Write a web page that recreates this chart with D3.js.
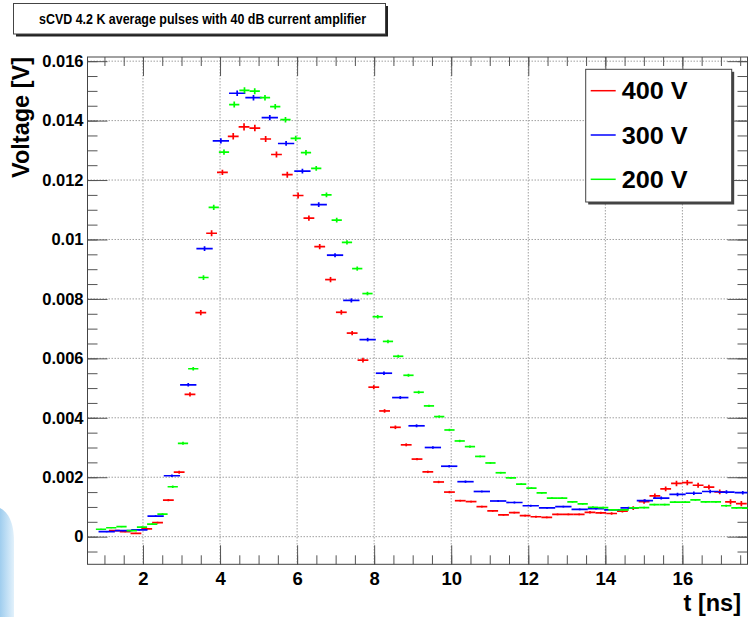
<!DOCTYPE html>
<html>
<head>
<meta charset="utf-8">
<script src="https://cdn.jsdelivr.net/npm/d3@7/dist/d3.min.js"></script>
<style>
  html, body { margin: 0; padding: 0; background: #fff; }
  svg { display: block; }
  text { font-family: "Liberation Sans", Arial, Helvetica, sans-serif; font-weight: bold; fill: #000; }
</style>
</head>
<body>
<svg id="chart" width="748" height="617"></svg>
<script>
// Averaged pulse histograms: uniform bins (low edge, bin width) with bin contents and errors in volts
const titleText = "sCVD 4.2 K average pulses with 40 dB current amplifier";
const seriesNames = ["400 V", "300 V", "200 V"];
const seriesColors = ["#ff0000", "#0000ff", "#00ff00"];

// 400 V
const redLow = 1.1153, redWidth = 0.2806;
const redValues = [
  0.00020, 0.00017, 0.00011, 0.00026, 0.00047, 0.00123, 0.00217, 0.00479, 0.00754, 0.01021,
  0.01226, 0.01347, 0.01379, 0.01375, 0.01338, 0.01286, 0.01218, 0.01148, 0.01072, 0.00976,
  0.00865, 0.00755, 0.00685, 0.00594, 0.00503, 0.00423, 0.00368, 0.00309, 0.00261, 0.00218,
  0.00184, 0.00150, 0.00121, 0.00118, 0.00101, 0.00087, 0.00073, 0.00081, 0.00071, 0.00067,
  0.00065, 0.00075, 0.00075, 0.00075, 0.00082, 0.00080, 0.00078, 0.00086, 0.00096, 0.00118,
  0.00137, 0.00161, 0.00179, 0.00182, 0.00173, 0.00167, 0.00151, 0.00117, 0.00111
];
const redErrors = [
  2, 2, 2, 2, 3, 4, 5, 7, 9, 10, 9, 11, 12, 11, 10, 10, 10, 10, 9, 9,
  9, 8, 7, 8, 7, 6, 6, 5, 4, 4, 4, 4, 3, 3, 3, 3, 3, 3, 3, 3,
  3, 3, 3, 3, 4, 4, 4, 5, 6, 7, 8, 8, 9, 9, 8, 8, 8, 9, 9
].map(e => e * 1e-5);

// 300 V
const blueLow = 0.8467, blueWidth = 0.4233;
const blueValues = [
  0.00017, 0.00020, 0.00023, 0.00069, 0.00205, 0.00511, 0.00969, 0.01332, 0.01492, 0.01477,
  0.01410, 0.01323, 0.01230, 0.01117, 0.00947, 0.00795, 0.00663, 0.00550, 0.00468, 0.00373,
  0.00300, 0.00237, 0.00185, 0.00152, 0.00120, 0.00115, 0.00104, 0.00097, 0.00101, 0.00092,
  0.00094, 0.00090, 0.00097, 0.00121, 0.00130, 0.00142, 0.00146, 0.00152, 0.00150, 0.00148
];
const blueErrors = [
  2, 2, 2, 3, 4, 6, 8, 9, 9, 9, 9, 8, 8, 8, 7, 7, 6, 6, 5, 5,
  4, 4, 4, 3, 3, 3, 3, 3, 3, 3, 3, 3, 4, 5, 5, 6, 6, 6, 6, 6
].map(e => e * 1e-5);

// 200 V
const greenLow = 0.7774, greenWidth = 0.2660;
const greenValues = [
  0.00025, 0.00030, 0.00034, 0.00020, 0.00032, 0.00042, 0.00076, 0.00168, 0.00314, 0.00565,
  0.00872, 0.01108, 0.01294, 0.01454, 0.01502, 0.01499, 0.01477, 0.01447, 0.01403, 0.01340,
  0.01292, 0.01239, 0.01150, 0.01065, 0.00990, 0.00902, 0.00818, 0.00740, 0.00657, 0.00607,
  0.00543, 0.00486, 0.00440, 0.00404, 0.00359, 0.00322, 0.00303, 0.00270, 0.00248, 0.00215,
  0.00198, 0.00177, 0.00163, 0.00147, 0.00130, 0.00130, 0.00117, 0.00110, 0.00099, 0.00098,
  0.00090, 0.00090, 0.00097, 0.00098, 0.00108, 0.00108, 0.00116, 0.00116, 0.00124, 0.00117,
  0.00117, 0.00104, 0.00097, 0.00096
];
const greenErrors = [
  2, 2, 2, 2, 2, 3, 3, 4, 5, 6, 8, 9, 9, 10, 10, 10, 9, 9, 9, 9,
  9, 8, 8, 8, 7, 7, 6, 6, 6, 5, 5, 5, 4, 4, 4, 4, 4, 3, 3, 3,
  3, 3, 3, 3, 3, 3, 3, 3, 3, 3, 3, 3, 3, 3, 3, 3, 3, 3, 3, 3,
  3, 3, 3, 3
].map(e => e * 1e-5);

// Axes
const xDomain = [0.56, 17.69];
const yDomain = [-0.00093, 0.01614];
const xTicks = [2, 4, 6, 8, 10, 12, 14, 16];
const xTickLabels = ["2", "4", "6", "8", "10", "12", "14", "16"];
const yTicks = [0, 0.002, 0.004, 0.006, 0.008, 0.010, 0.012, 0.014, 0.016];
const yTickLabels = ["0", "0.002", "0.004", "0.006", "0.008", "0.01", "0.012", "0.014", "0.016"];
const xMinorStep = 0.5, yMinorStep = 0.0005;
const xTitle = "t [ns]";
const yTitle = "Voltage [V]";

// Frame geometry
const frame = { left: 87.5, right: 747.5, top: 57, bottom: 564.3 };

const svg = d3.select("#chart");
const x = d3.scaleLinear().domain(xDomain).range([frame.left, frame.right]);
const y = d3.scaleLinear().domain(yDomain).range([frame.bottom, frame.top]);

// Decorative swoosh at lower left
const defs = svg.append("defs");
const grad = defs.append("linearGradient").attr("id", "swoosh").attr("x1", 0).attr("x2", 1).attr("y1", 0).attr("y2", 0);
grad.append("stop").attr("offset", "0%").attr("stop-color", "#9fcdee");
grad.append("stop").attr("offset", "55%").attr("stop-color", "#c4e1f6");
grad.append("stop").attr("offset", "100%").attr("stop-color", "#e2f1fb");
svg.append("path")
  .attr("d", "M0,508 C8,512 14,522 14,542 L14,617 L0,617 Z")
  .attr("fill", "url(#swoosh)");

// Grid
const gridColor = "#a0a0a0";
const grid = svg.append("g").attr("class", "grid");
grid.selectAll("line.gx").data(xTicks).join("line")
  .attr("x1", d => x(d)).attr("x2", d => x(d))
  .attr("y1", frame.top).attr("y2", frame.bottom)
  .attr("stroke", gridColor).attr("stroke-width", 1).attr("stroke-dasharray", "1.5,1.5");
grid.selectAll("line.gy").data(yTicks).join("line")
  .attr("x1", frame.left).attr("x2", frame.right)
  .attr("y1", d => y(d)).attr("y2", d => y(d))
  .attr("stroke", gridColor).attr("stroke-width", 1).attr("stroke-dasharray", "1.5,1.5");

// Tick axes (ticks point into the frame on all four sides)
const xMinor = d3.range(1, xDomain[1], xMinorStep);
const yMinor = d3.range(-0.0005, yDomain[1], yMinorStep).map(v => +v.toFixed(5));
const tickColor = "#555";

function styleAxis(g) {
  g.select(".domain").remove();
  g.selectAll(".tick line").attr("stroke", tickColor).attr("stroke-width", 1);
}

svg.append("g").attr("transform", `translate(0,${frame.bottom})`)
  .call(d3.axisBottom(x).tickValues(xMinor).tickSize(-9).tickFormat("")).call(styleAxis);
svg.append("g").attr("transform", `translate(0,${frame.top})`)
  .call(d3.axisTop(x).tickValues(xMinor).tickSize(-9).tickFormat("")).call(styleAxis);
svg.append("g").attr("transform", `translate(${frame.left},0)`)
  .call(d3.axisLeft(y).tickValues(yMinor).tickSize(-10).tickFormat("")).call(styleAxis);
svg.append("g").attr("transform", `translate(${frame.right},0)`)
  .call(d3.axisRight(y).tickValues(yMinor).tickSize(-10).tickFormat("")).call(styleAxis);

const xAxisG = svg.append("g").attr("transform", `translate(0,${frame.bottom})`)
  .call(d3.axisBottom(x).tickValues(xTicks).tickSize(-19).tickPadding(8)
    .tickFormat((d, i) => xTickLabels[i]))
  .call(styleAxis);
xAxisG.attr("font-size", null).attr("font-family", null);
xAxisG.selectAll(".tick text").attr("font-size", 18.5).attr("fill", "#000");

svg.append("g").attr("transform", `translate(0,${frame.top})`)
  .call(d3.axisTop(x).tickValues(xTicks).tickSize(-19).tickFormat("")).call(styleAxis);

const yAxisG = svg.append("g").attr("transform", `translate(${frame.left},0)`)
  .call(d3.axisLeft(y).tickValues(yTicks).tickSize(-20).tickPadding(4)
    .tickFormat((d, i) => yTickLabels[i]))
  .call(styleAxis);
yAxisG.attr("font-size", null).attr("font-family", null);
yAxisG.selectAll(".tick text").attr("font-size", 16.5).attr("fill", "#000");

svg.append("g").attr("transform", `translate(${frame.right},0)`)
  .call(d3.axisRight(y).tickValues(yTicks).tickSize(-20).tickFormat("")).call(styleAxis);

// Frame
svg.append("rect")
  .attr("x", frame.left).attr("y", frame.top)
  .attr("width", frame.right - frame.left).attr("height", frame.bottom - frame.top)
  .attr("fill", "none").attr("stroke", "#444").attr("stroke-width", 1);

// Histograms drawn as error crosses: bin-width horizontal bar plus vertical error bar
const series = [
  { low: redLow, width: redWidth, values: redValues, errors: redErrors, color: seriesColors[0] },
  { low: blueLow, width: blueWidth, values: blueValues, errors: blueErrors, color: seriesColors[1] },
  { low: greenLow, width: greenWidth, values: greenValues, errors: greenErrors, color: seriesColors[2] }
];

svg.append("clipPath").attr("id", "plotClip").append("rect")
  .attr("x", frame.left).attr("y", frame.top)
  .attr("width", frame.right - frame.left).attr("height", frame.bottom - frame.top);

const marks = svg.append("g").attr("clip-path", "url(#plotClip)");
series.forEach(s => {
  const bins = s.values.map((v, i) => ({
    lo: s.low + i * s.width,
    hi: s.low + (i + 1) * s.width,
    c: s.low + (i + 0.5) * s.width,
    v: v,
    e: s.errors[i]
  }));
  const g = marks.append("g").attr("stroke", s.color).attr("stroke-width", 1.7).attr("fill", "none");
  g.selectAll("line.h").data(bins).join("line").attr("class", "h")
    .attr("x1", d => x(d.lo)).attr("x2", d => x(d.hi))
    .attr("y1", d => y(d.v)).attr("y2", d => y(d.v));
  g.selectAll("line.v").data(bins).join("line").attr("class", "v")
    .attr("x1", d => x(d.c)).attr("x2", d => x(d.c))
    .attr("y1", d => y(d.v - d.e)).attr("y2", d => y(d.v + d.e));
});

// Axis titles
svg.append("text")
  .attr("x", 741).attr("y", 611)
  .attr("text-anchor", "end").attr("font-size", 23.5)
  .text(xTitle);
svg.append("text")
  .attr("transform", "translate(29,57) rotate(-90)")
  .attr("text-anchor", "end").attr("font-size", 23.5)
  .text(yTitle);

// Title box with shadow
const titleG = svg.append("g");
const titleBox = { x: 13.5, y: 3.5, w: 372, h: 30.5 };
titleG.append("rect")
  .attr("x", titleBox.x + 2.5).attr("y", titleBox.y + 2.5)
  .attr("width", titleBox.w).attr("height", titleBox.h).attr("fill", "#222");
titleG.append("rect")
  .attr("x", titleBox.x).attr("y", titleBox.y)
  .attr("width", titleBox.w).attr("height", titleBox.h)
  .attr("fill", "#fff").attr("stroke", "#444").attr("stroke-width", 1);
titleG.append("text")
  .attr("x", 39).attr("y", 24)
  .attr("font-size", 15)
  .attr("textLength", 327).attr("lengthAdjust", "spacingAndGlyphs")
  .text(titleText);

// Legend box with shadow
const legend = { x: 585.7, y: 69.3, w: 146, h: 132.7 };
svg.append("rect")
  .attr("x", legend.x + 2.5).attr("y", legend.y + 2.5)
  .attr("width", legend.w).attr("height", legend.h).attr("fill", "#444");
svg.append("rect")
  .attr("x", legend.x).attr("y", legend.y)
  .attr("width", legend.w).attr("height", legend.h)
  .attr("fill", "#fff").attr("stroke", "#444").attr("stroke-width", 1);
const rowY = d3.scalePoint().domain(seriesNames).range([90.7, 179.3]);
const entries = svg.append("g").selectAll("g").data(seriesNames).join("g")
  .attr("transform", d => `translate(0,${rowY(d)})`);
entries.append("line")
  .attr("x1", 590.7).attr("x2", 615.7).attr("y1", 0).attr("y2", 0)
  .attr("stroke", (d, i) => seriesColors[i]).attr("stroke-width", 1.5);
entries.append("text")
  .attr("x", 621.7).attr("y", 0).attr("dy", "0.36em")
  .attr("font-size", 24)
  .attr("textLength", 66).attr("lengthAdjust", "spacingAndGlyphs")
  .text(d => d);
</script>
</body>
</html>
